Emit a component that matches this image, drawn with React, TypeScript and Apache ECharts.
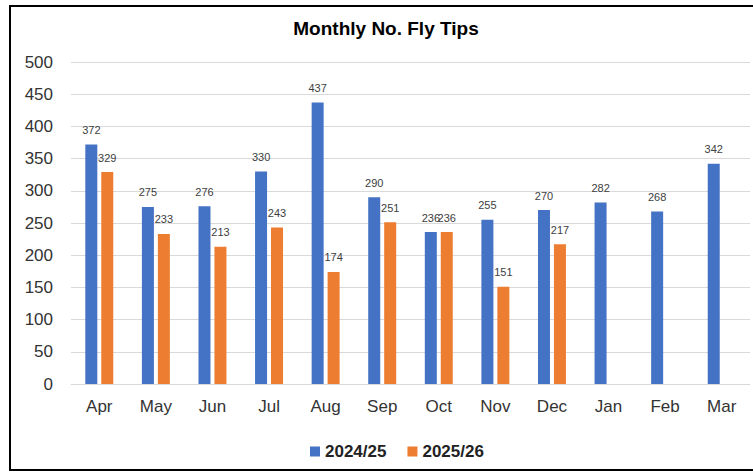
import React, { useEffect, useRef } from "react";
import * as echarts from "echarts";

const months = ["Apr", "May", "Jun", "Jul", "Aug", "Sep", "Oct", "Nov", "Dec", "Jan", "Feb", "Mar"];
const fy2425 = [372, 275, 276, 330, 437, 290, 236, 255, 270, 282, 268, 342];
const fy2526: (number | null)[] = [329, 233, 213, 243, 174, 251, 236, 151, 217, null, null, null];
const seriesNames = ["2024/25", "2025/26"];

export default function App() {
  const ref = useRef<HTMLDivElement>(null);
  useEffect(() => {
    document.body.style.margin = "0";
    const chart = echarts.init(ref.current!, null, { renderer: "svg" });
    const font = "'Liberation Sans', Arial, sans-serif";
    const labelCfg = {
      show: true,
      position: "top" as const,
      distance: 9,
      fontSize: 11,
      color: "#404040",
      fontFamily: font,
    };
    chart.setOption({
      animation: false,
      backgroundColor: "#ffffff",
      title: {
        text: "Monthly No. Fly Tips",
        left: 381,
        top: 14,
        textAlign: "center",
        textStyle: { fontSize: 19, fontWeight: "bold", color: "#000", fontFamily: font },
      },
      graphic: [
        {
          type: "rect",
          shape: { x: 10, y: 6, width: 760, height: 464 },
          style: { fill: "none", stroke: "#000", lineWidth: 2 },
          silent: true,
        },
      ],
      legend: {
        left: 305,
        top: 438,
        itemWidth: 10,
        itemHeight: 10,
        itemGap: 21,
        icon: "rect",
        textStyle: { fontSize: 17, fontWeight: "bold", color: "#222", fontFamily: font },
        data: seriesNames,
      },
      grid: { left: 71, right: 3, top: 62, bottom: 89 },
      xAxis: {
        type: "category",
        data: months,
        axisLine: { lineStyle: { color: "#d9d9d9" } },
        axisTick: { show: false },
        axisLabel: { fontSize: 17, color: "#333", margin: 14, fontFamily: font },
      },
      yAxis: {
        type: "value",
        min: 0,
        max: 500,
        interval: 50,
        axisLine: { show: false },
        axisTick: { show: false },
        splitLine: { lineStyle: { color: "#d9d9d9" } },
        axisLabel: { fontSize: 17, color: "#333", margin: 18, fontFamily: font },
      },
      series: [
        {
          name: seriesNames[0],
          type: "bar",
          data: fy2425,
          barWidth: 12,
          barGap: "33%",
          itemStyle: { color: "#4472C4" },
          label: labelCfg,
        },
        {
          name: seriesNames[1],
          type: "bar",
          data: fy2526,
          barWidth: 12,
          barGap: "33%",
          itemStyle: { color: "#ED7D31" },
          label: labelCfg,
        },
      ],
    });
    return () => chart.dispose();
  }, []);
  return <div ref={ref} style={{ width: 753, height: 473 }} />;
}
